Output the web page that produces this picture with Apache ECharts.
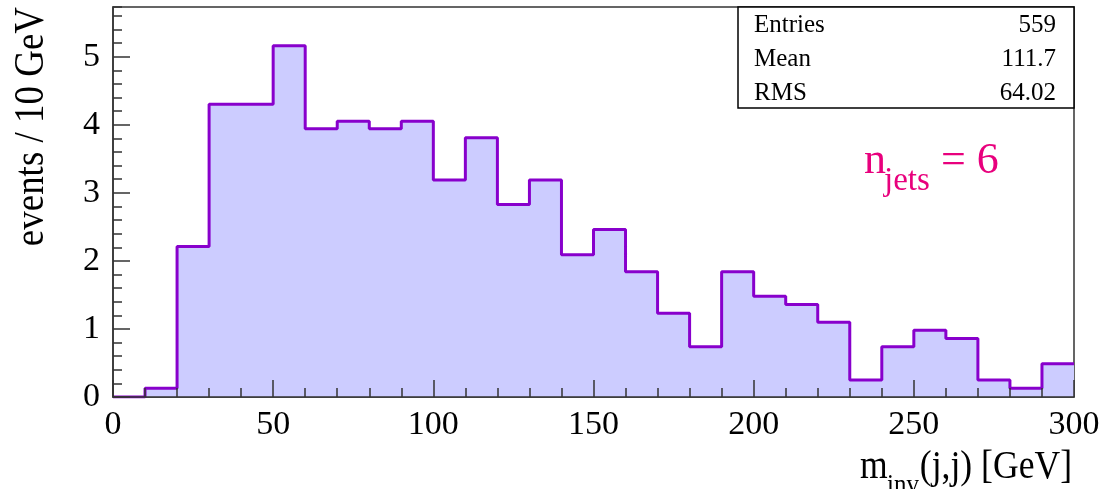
<!DOCTYPE html>
<html>
<head>
<meta charset="utf-8">
<script src="https://cdn.jsdelivr.net/npm/echarts@6/dist/echarts.min.js"></script>
<style>
  html, body { margin: 0; padding: 0; background: #fff; }
  #chart { width: 1104px; height: 489px; }
</style>
</head>
<body>
<div id="chart"></div>
<script>
// bin edges in GeV (10 GeV bins)
const binEdges = [0, 10, 20, 30, 40, 50, 60, 70, 80, 90, 100, 110, 120, 130, 140, 150,
  160, 170, 180, 190, 200, 210, 220, 230, 240, 250, 260, 270, 280, 290, 300];

// events per bin
const binValues = [0, 0.13, 2.21, 4.30, 4.30, 5.16, 3.94, 4.05, 3.94, 4.05,
  3.19, 3.81, 2.83, 3.19, 2.09, 2.46, 1.84, 1.23, 0.74, 1.84,
  1.48, 1.36, 1.10, 0.25, 0.74, 0.98, 0.86, 0.25, 0.13, 0.49];

const xTicks = [0, 50, 100, 150, 200, 250, 300];
const yTicks = [0, 1, 2, 3, 4, 5];

const statNames = ["Entries", "Mean", "RMS"];
const statValues = ["559", "111.7", "64.02"];

const serif = "'Liberation Serif', 'DejaVu Serif', serif";
const lineColor = "#8800cc";
const fillColor = "#ccccff";
const pink = "#e8007d";

// step line points: left edge of each bin, plus the last right edge
const stepData = binValues.map((v, i) => [binEdges[i], v]);
stepData.push([binEdges[binEdges.length - 1], binValues[binValues.length - 1]]);

const chart = echarts.init(document.getElementById("chart"));

const yMax = 5.73;

// stats box
const statGraphics = [
  {
    type: "rect",
    shape: { x: 738, y: 7, width: 336, height: 101 },
    style: { fill: "#fff", stroke: "#000", lineWidth: 1.5 },
    z: 100
  }
];
statNames.forEach((name, i) => {
  statGraphics.push({
    type: "text", x: 754, y: 25 + i * 34, z: 101,
    style: { text: name, font: "25px " + serif, fill: "#000", textVerticalAlign: "middle" }
  });
  statGraphics.push({
    type: "text", x: 1056, y: 25 + i * 34, z: 101,
    style: { text: statValues[i], font: "25px " + serif, fill: "#000", textAlign: "right", textVerticalAlign: "middle" }
  });
});

const option = {
  animation: false,
  grid: {
    left: 113, right: 30, top: 7, bottom: 92,
    show: true, borderColor: "#333", borderWidth: 1.5, backgroundColor: "transparent"
  },
  xAxis: {
    type: "value",
    min: 0, max: 300, interval: 50,
    z: 5,
    axisLine: { show: true, lineStyle: { color: "#333", width: 1.5 } },
    axisTick: { show: true, inside: true, length: 17, lineStyle: { color: "#333", width: 1.5 } },
    minorTick: { show: true, splitNumber: 5, length: 9, lineStyle: { color: "#333", width: 1.5 } },
    splitLine: { show: false },
    axisLabel: {
      margin: 11, fontFamily: serif, fontSize: 34, color: "#000",
      formatter: v => (xTicks.includes(v) ? String(v) : "")
    }
  },
  yAxis: [
    {
      type: "value",
      min: 0, max: yMax, interval: 1,
      z: 5,
      axisLine: { show: true, lineStyle: { color: "#333", width: 1.5 } },
      axisTick: { show: true, inside: true, length: 17, lineStyle: { color: "#333", width: 1.5 } },
      splitLine: { show: false },
      axisLabel: {
        margin: 13, fontFamily: serif, fontSize: 34, color: "#000",
        showMaxLabel: false,
        formatter: v => (yTicks.includes(v) ? String(v) : "")
      }
    },
    {
      // minor ticks every 0.2
      type: "value",
      position: "left",
      min: 0, max: yMax, interval: 0.2,
      z: 5,
      axisLine: { show: false },
      axisTick: { show: true, inside: true, length: 9, lineStyle: { color: "#333", width: 1.5 } },
      splitLine: { show: false },
      axisLabel: { show: false }
    }
  ],
  series: [
    {
      type: "line",
      step: "end",
      data: stepData,
      symbol: "none",
      z: 2,
      lineStyle: { color: lineColor, width: 3 },
      areaStyle: { color: fillColor, opacity: 1 }
    }
  ],
  graphic: [
    // y axis title
    {
      type: "text", x: 32, y: 7, rotation: Math.PI / 2, scaleX: 0.88,
      style: {
        text: "events / 10 GeV", font: "42px " + serif, fill: "#000",
        textAlign: "right", textVerticalAlign: "middle"
      }
    },
    // x axis title: m_inv(j,j) [GeV]
    {
      type: "text", x: 860, y: 487, scaleX: 0.89,
      style: { text: "m", font: "40px " + serif, fill: "#000", textVerticalAlign: "bottom" }
    },
    {
      type: "text", x: 887, y: 500, scaleX: 0.89,
      style: { text: "inv", font: "28px " + serif, fill: "#000", textVerticalAlign: "bottom" }
    },
    {
      type: "text", x: 1072, y: 487, scaleX: 0.89,
      style: { text: "(j,j) [GeV]", font: "40px " + serif, fill: "#000", textAlign: "right", textVerticalAlign: "bottom" }
    },
    // n_jets = 6
    {
      type: "text", x: 864, y: 183,
      style: { text: "n", font: "44px " + serif, fill: pink, textVerticalAlign: "bottom" }
    },
    {
      type: "text", x: 884, y: 198,
      style: { text: "jets", font: "33px " + serif, fill: pink, textVerticalAlign: "bottom" }
    },
    {
      type: "text", x: 941, y: 183,
      style: { text: "= 6", font: "44px " + serif, fill: pink, textVerticalAlign: "bottom" }
    }
  ].concat(statGraphics)
};

chart.setOption(option);
</script>
</body>
</html>
